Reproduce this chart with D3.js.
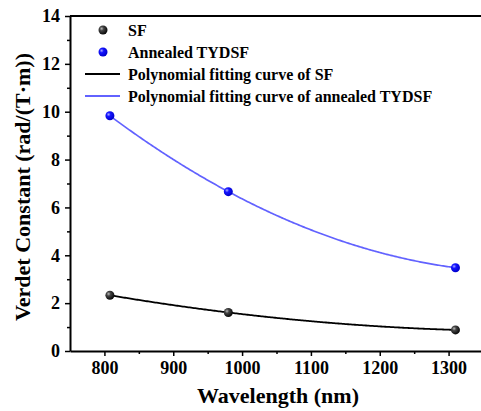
<!DOCTYPE html>
<html>
<head>
<meta charset="utf-8">
<script src="https://cdn.jsdelivr.net/npm/d3@7"></script>
<style>
  body { margin: 0; background: #fff; }
  svg text { font-weight: bold; }
</style>
</head>
<body>
<div id="chart"></div>
<script>
// data
var wavelengths = [808, 980, 1310];
var sfValues = [2.33, 1.61, 0.88];
var tydsfValues = [9.83, 6.66, 3.48];
var xTicks = [800, 900, 1000, 1100, 1200, 1300];
var yTicks = [0, 2, 4, 6, 8, 10, 12, 14];
var legendLabels = ["SF", "Annealed TYDSF",
    "Polynomial fitting curve of SF",
    "Polynomial fitting curve of annealed TYDSF"];

var serif = "'Liberation Serif', 'DejaVu Serif', serif";
var width = 481, height = 411;
var margin = {left: 70, top: 16, right: -2, bottom: 60};

var svg = d3.select("#chart").append("svg")
    .attr("width", width)
    .attr("height", height);

var x = d3.scaleLinear().domain([750, 1350]).range([margin.left, width - margin.right]);
var y = d3.scaleLinear().domain([0, 14]).range([height - margin.bottom, margin.top]);

// sphere-like markers
var defs = svg.append("defs");
function sphere(id, c0, c1, c2) {
    var g = defs.append("radialGradient").attr("id", id)
        .attr("cx", "35%").attr("cy", "35%").attr("r", "65%");
    g.append("stop").attr("offset", "0%").attr("stop-color", c0);
    g.append("stop").attr("offset", "35%").attr("stop-color", c1);
    g.append("stop").attr("offset", "100%").attr("stop-color", c2);
}
sphere("ballBlack", "#bbbbbb", "#444444", "#0a0a0a");
sphere("ballBlue", "#aaaaff", "#1414ff", "#0000cc");

// quadratic polynomial fit (3 points -> exact)
function polyFit(xs, ys) {
    return function(t) {
        var s = 0;
        for (var i = 0; i < xs.length; i++) {
            var p = ys[i];
            for (var j = 0; j < xs.length; j++) {
                if (j != i) p *= (t - xs[j]) / (xs[i] - xs[j]);
            }
            s += p;
        }
        return s;
    };
}
var fitX = d3.range(wavelengths[0], wavelengths[2] + 1, 2);
var fSF = polyFit(wavelengths, sfValues);
var fTY = polyFit(wavelengths, tydsfValues);

var line = d3.line()
    .x(function(d) { return x(d[0]); })
    .y(function(d) { return y(d[1]); });

svg.append("path")
    .datum(fitX.map(function(t) { return [t, fSF(t)]; }))
    .attr("d", line)
    .attr("fill", "none")
    .attr("stroke", "#000")
    .attr("stroke-width", 1.8);

svg.append("path")
    .datum(fitX.map(function(t) { return [t, fTY(t)]; }))
    .attr("d", line)
    .attr("fill", "none")
    .attr("stroke", "#6262ff")
    .attr("stroke-width", 1.7);

svg.selectAll(".sf").data(wavelengths).enter().append("circle")
    .attr("cx", function(d) { return x(d); })
    .attr("cy", function(d, i) { return y(sfValues[i]); })
    .attr("r", 4.5)
    .attr("fill", "url(#ballBlack)");

svg.selectAll(".ty").data(wavelengths).enter().append("circle")
    .attr("cx", function(d) { return x(d); })
    .attr("cy", function(d, i) { return y(tydsfValues[i]); })
    .attr("r", 4.5)
    .attr("fill", "url(#ballBlue)");

// axes
svg.append("g")
    .attr("transform", "translate(0," + y(0) + ")")
    .call(d3.axisBottom(x).tickValues(xTicks).tickFormat(d3.format("d"))
        .tickSize(5).tickPadding(5).tickSizeOuter(0));
svg.append("g")
    .attr("transform", "translate(0," + y(0) + ")")
    .call(d3.axisBottom(x).tickValues(d3.range(850, 1351, 100)).tickSize(3).tickFormat("").tickSizeOuter(0))
    .select(".domain").remove();

svg.append("g")
    .attr("transform", "translate(" + margin.left + ",0)")
    .call(d3.axisLeft(y).tickValues(yTicks).tickSize(5).tickPadding(5).tickSizeOuter(0));
svg.append("g")
    .attr("transform", "translate(" + margin.left + ",0)")
    .call(d3.axisLeft(y).tickValues([1, 3, 5, 7, 9, 11, 13]).tickSize(3).tickFormat("").tickSizeOuter(0))
    .select(".domain").remove();

svg.selectAll(".domain").attr("stroke", "#000").attr("stroke-width", 2);
svg.selectAll(".tick line").attr("stroke", "#000").attr("stroke-width", 1.5);
svg.selectAll(".tick text")
    .attr("fill", "#000")
    .attr("font-family", serif)
    .attr("font-size", 18);

// top frame line
svg.append("line")
    .attr("x1", margin.left).attr("x2", width)
    .attr("y1", y(14)).attr("y2", y(14))
    .attr("stroke", "#000").attr("stroke-width", 2);

// axis titles
svg.append("text")
    .attr("x", 278).attr("y", 403)
    .attr("text-anchor", "middle")
    .attr("font-family", serif)
    .attr("font-size", 22)
    .text("Wavelength (nm)");

svg.append("text")
    .attr("transform", "translate(30," + 187 + ") rotate(-90)")
    .attr("text-anchor", "middle")
    .attr("font-family", serif)
    .attr("font-size", 22)
    .text("Verdet Constant (rad/(T\u00B7m))");

// legend
var legend = svg.append("g");
var rowY = [30, 52, 74, 96];
legendLabels.forEach(function(lab, i) {
    if (i < 2) {
        legend.append("circle")
            .attr("cx", 103).attr("cy", rowY[i]).attr("r", 4.5)
            .attr("fill", i == 0 ? "url(#ballBlack)" : "url(#ballBlue)");
    } else {
        legend.append("line")
            .attr("x1", 85).attr("x2", 120)
            .attr("y1", rowY[i]).attr("y2", rowY[i])
            .attr("stroke", i == 2 ? "#000" : "#6262ff")
            .attr("stroke-width", 1.8);
    }
    legend.append("text")
        .attr("x", 128).attr("y", rowY[i] + 5.5)
        .attr("font-family", serif)
        .attr("font-size", 16)
        .text(lab);
});
</script>
</body>
</html>
